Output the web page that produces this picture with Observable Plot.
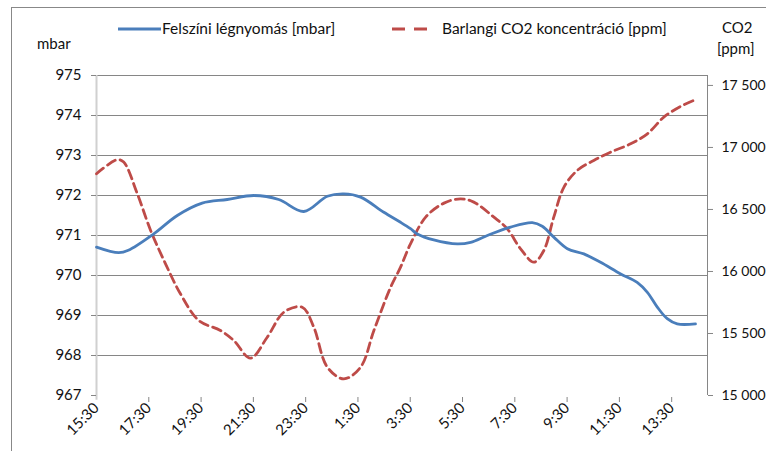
<!DOCTYPE html>
<html><head><meta charset="utf-8">
<script src="https://cdn.jsdelivr.net/npm/d3@7"></script>
<script src="https://cdn.jsdelivr.net/npm/@observablehq/plot@0.6"></script>
<style>
body{margin:0;background:#fff;font-family:Lato,"Open Sans",sans-serif;}
#wrap{position:relative;width:766px;height:451px;overflow:hidden;}
#frame{position:absolute;left:11px;top:7px;width:800px;height:500px;border:1px solid #888;box-sizing:border-box;}
#chart{position:absolute;left:0;top:0;}
.lbl{position:absolute;font-size:15px;color:#111;white-space:nowrap;line-height:16px;}
.leg{font-size:15.5px;}
</style></head><body>
<div id="wrap">
<div id="frame"></div>
<div id="chart"></div>
<svg style="position:absolute;left:0;top:0" width="766" height="60">
<line x1="118" y1="29" x2="161" y2="29" stroke="#4a7ebb" stroke-width="2.8"/>
<line x1="392" y1="29" x2="427" y2="29" stroke="#be4b48" stroke-width="2.8" stroke-dasharray="13,9"/>
</svg>
<div class="lbl leg" style="left:162px;top:20px">Felszíni légnyomás [mbar]</div>
<div class="lbl leg" style="left:442px;top:20px">Barlangi CO2 koncentráció [ppm]</div>
<div class="lbl" style="left:37px;top:35px">mbar</div>
<div class="lbl" style="left:722px;top:19px">CO2</div>
<div class="lbl" style="left:717px;top:40px">[ppm]</div>
</div>
<script>
// time axis: hours after 15:30
const timeTicks = [0, 2, 4, 6, 8, 10, 12, 14, 16, 18, 20, 22];
const timeLabels = ["15:30","17:30","19:30","21:30","23:30","1:30","3:30","5:30","7:30","9:30","11:30","13:30"];

// surface air pressure [mbar]
const pressureHours = [0, 0.85, 1.22, 2.19, 3.09, 4.04, 5.0, 6.02, 6.97, 7.93, 8.83, 9.46, 10.1, 10.99, 11.63, 12.01, 12.27, 12.9, 13.8, 14.31, 14.95, 15.84, 16.67, 17.05, 17.49, 18.01, 18.64, 19.28, 20.05, 20.68, 21.07, 21.45, 21.83, 22.21, 22.91];
const pressure = [970.71, 970.57, 970.63, 971.04, 971.5, 971.81, 971.9, 972.0, 971.9, 971.6, 971.98, 972.04, 971.96, 971.58, 971.33, 971.17, 971.04, 970.89, 970.79, 970.83, 971.0, 971.21, 971.32, 971.23, 970.96, 970.67, 970.54, 970.33, 970.04, 969.83, 969.58, 969.21, 968.92, 968.79, 968.79];

// cave CO2 concentration [ppm]
const co2Hours = [0, 0.79, 1.04, 1.56, 2.07, 2.64, 3.21, 3.91, 4.74, 5.25, 5.89, 6.53, 7.17, 7.87, 8.31, 8.83, 9.46, 10.1, 10.61, 11.25, 11.63, 12.01, 12.59, 13.29, 13.92, 14.43, 15.2, 15.71, 16.22, 16.73, 17.11, 17.49, 17.88, 18.39, 19.02, 19.66, 20.43, 21.07, 21.7, 22.34, 22.91];
const co2 = [16788, 16901, 16882, 16627, 16331, 16062, 15820, 15605, 15524, 15444, 15301, 15470, 15672, 15712, 15551, 15228, 15134, 15228, 15524, 15873, 16035, 16223, 16438, 16551, 16586, 16559, 16438, 16344, 16183, 16075, 16169, 16438, 16680, 16815, 16895, 16962, 17029, 17110, 17244, 17331, 17385];

const pressureTicks = [967, 968, 969, 970, 971, 972, 973, 974, 975];
const co2Ticks = [15000, 15500, 16000, 16500, 17000, 17500];
const co2Labels = ["15 000", "15 500", "16 000", "16 500", "17 000", "17 500"];

const pMin = 967, pMax = 975, cMin = 15000, cMax = 17580, xMax = 23.37;
const toY = c => pMin + (c - cMin) / (cMax - cMin) * (pMax - pMin);

const pData = pressureHours.map((h, i) => ({h, v: pressure[i]}));
const cData = co2Hours.map((h, i) => ({h, v: toY(co2[i])}));
const co2TickY = co2Ticks.map(toY);

const chart = Plot.plot({
  width: 766, height: 451,
  marginLeft: 96, marginRight: 59, marginTop: 75, marginBottom: 56,
  style: {fontFamily: "Lato, 'Open Sans', sans-serif", fontSize: "15px", color: "#111", background: "transparent"},
  x: {domain: [0, xMax]},
  y: {domain: [pMin, pMax]},
  marks: [
    Plot.ruleY(pressureTicks.slice(1), {stroke: "#868686", strokeWidth: 1}),
    Plot.ruleX([0], {y1: pMin - 0.12, y2: pMax, stroke: "#d0d0d0", strokeWidth: 2}),
    Plot.ruleX([xMax], {y1: pMin, y2: pMax, stroke: "#868686", strokeWidth: 1}),
    Plot.axisY(pressureTicks, {anchor: "left", tickSize: 5, tickPadding: 10, stroke: "#868686", fill: "#111", label: null}),
    Plot.axisY(co2TickY, {anchor: "right", tickSize: 5, tickPadding: 9, stroke: "#868686", fill: "#111", label: null, fontSize: 14,
      tickFormat: d => co2Labels[co2TickY.findIndex(t => Math.abs(t - d) < 1e-6)]}),
    Plot.axisX(timeTicks.slice(1), {anchor: "bottom", tickSize: 5, stroke: "#868686", tickFormat: null, text: null, label: null, dy: 2}),
    Plot.axisX(timeTicks, {anchor: "bottom", tickSize: 0, tickPadding: 10, tickRotate: -45, fill: "#111", label: null,
      tickFormat: d => timeLabels[timeTicks.indexOf(d)]}),
    Plot.line(cData, {x: "h", y: "v", stroke: "#be4b48", strokeWidth: 2.8, strokeDasharray: "9,5", curve: "catmull-rom"}),
    Plot.line(pData, {x: "h", y: "v", stroke: "#4a7ebb", strokeWidth: 2.8, curve: "catmull-rom"})
  ]
});
document.getElementById("chart").appendChild(chart);
</script>
</body></html>
